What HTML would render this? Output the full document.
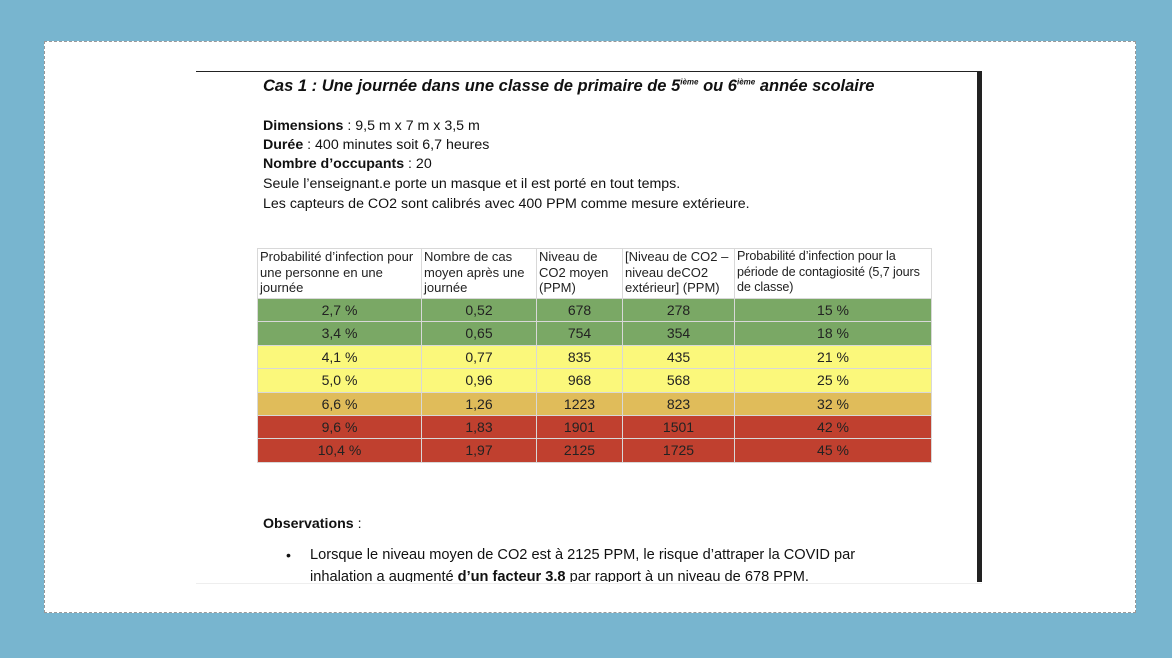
<!DOCTYPE html>
<html><head><meta charset="utf-8"><style>
body{margin:0;width:1172px;height:658px;background:#78b5cf;position:relative;overflow:hidden;font-family:"Liberation Sans",sans-serif}
#panel{position:absolute;left:44px;top:41px;width:1090px;height:570px;background:#fff;border:1px dashed #999}
#doc{position:absolute;left:196px;top:71px;width:786px;height:511px;border-top:1.5px solid #222;border-bottom:1px solid #eee}
#bar{position:absolute;left:977px;top:71px;width:5px;height:511px;background:#222}
.t{position:absolute;white-space:nowrap;color:#111;font-size:14.2px}
table{position:absolute;left:257px;top:248px;border-collapse:collapse;font-size:13px;color:#222;table-layout:fixed}
td{border:1px solid #d8d8d8;padding:0 2px;line-height:15.5px;vertical-align:top;overflow:hidden}
tr.h td{height:49px;background:#fff}
tr.r td{height:22.4px;text-align:center;font-size:14px;line-height:22px;padding:0}
.g td{background:#7aa865}.y td{background:#fbf87b}.o td{background:#e0bc5a}.rd td{background:#c0402f}
</style></head><body>
<div id="panel"></div><div id="doc"></div><div id="bar"></div>
<div class="t" style="left:263px;top:77px;font-size:16.5px;font-weight:bold;font-style:italic">Cas 1 : Une journée dans une classe de primaire de 5<sup style="font-size:8px">ième</sup> ou 6<sup style="font-size:8px">ième</sup> année scolaire</div>
<div class="t" style="left:263px;top:118px"><b>Dimensions</b> : 9,5 m x 7 m x 3,5 m</div>
<div class="t" style="left:263px;top:137px"><b>Durée</b> : 400 minutes soit 6,7 heures</div>
<div class="t" style="left:263px;top:156px"><b>Nombre d’occupants</b> : 20</div>
<div class="t" style="left:263px;top:176px">Seule l’enseignant.e porte un masque et il est porté en tout temps.</div>
<div class="t" style="left:263px;top:196px">Les capteurs de CO2 sont calibrés avec 400 PPM comme mesure extérieure.</div>
<table>
<colgroup><col style="width:164px"><col style="width:115px"><col style="width:86px"><col style="width:112px"><col style="width:197px"></colgroup>
<tr class="h"><td>Probabilité d’infection pour une personne en une journée</td><td>Nombre de cas moyen après une journée</td><td>Niveau de CO2 moyen (PPM)</td><td>[Niveau de CO2 – niveau deCO2 extérieur] (PPM)</td><td style="font-size:12.6px;letter-spacing:-0.1px">Probabilité d’infection pour la période de contagiosité (5,7 jours de classe)</td></tr>
<tr class="r g"><td>2,7 %</td><td>0,52</td><td>678</td><td>278</td><td>15 %</td></tr>
<tr class="r g"><td>3,4 %</td><td>0,65</td><td>754</td><td>354</td><td>18 %</td></tr>
<tr class="r y"><td>4,1 %</td><td>0,77</td><td>835</td><td>435</td><td>21 %</td></tr>
<tr class="r y"><td>5,0 %</td><td>0,96</td><td>968</td><td>568</td><td>25 %</td></tr>
<tr class="r o"><td>6,6 %</td><td>1,26</td><td>1223</td><td>823</td><td>32 %</td></tr>
<tr class="r rd"><td>9,6 %</td><td>1,83</td><td>1901</td><td>1501</td><td>42 %</td></tr>
<tr class="r rd"><td>10,4 %</td><td>1,97</td><td>2125</td><td>1725</td><td>45 %</td></tr>
</table>
<div class="t" style="left:263px;top:516px"><b>Observations</b> :</div>
<div class="t" style="left:286px;top:548px">•</div>
<div class="t" style="left:310px;top:547px;font-size:14.6px">Lorsque le niveau moyen de CO2 est à 2125 PPM, le risque d’attraper la COVID par</div>
<div class="t" style="left:310px;top:569px;height:13px;overflow:hidden;font-size:14.6px">inhalation a augmenté <b>d’un facteur 3.8</b> par rapport à un niveau de 678 PPM.</div>
</body></html>
